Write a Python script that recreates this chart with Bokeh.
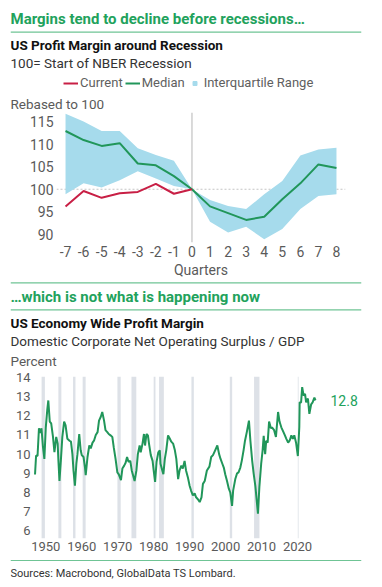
import numpy as np
from bokeh.plotting import figure
from bokeh.models import (Range1d, Label, Span, Legend, LegendItem, FixedTicker,
                          BoxAnnotation, ColumnDataSource)
from bokeh.layouts import column
from bokeh.embed import file_html
from bokeh.resources import INLINE
from bokeh.core.properties import value

# ---------------- data: chart 1 ----------------
quarters = [-7, -6, -5, -4, -3, -2, -1, 0, 1, 2, 3, 4, 5, 6, 7, 8]
median = [112.9, 110.9, 109.6, 110.2, 105.7, 105.3, 102.9, 100.0,
          96.2, 94.7, 93.2, 93.9, 97.8, 101.3, 105.5, 104.7]
iqr_high = [116.7, 115.0, 112.9, 112.9, 109.1, 107.6, 106.3, 100.0,
            97.6, 96.3, 95.6, 98.9, 101.8, 107.5, 108.8, 109.2]
iqr_low = [98.9, 101.3, 100.4, 102.0, 104.0, 102.4, 100.7, 100.0,
           92.8, 90.4, 91.7, 88.9, 91.2, 95.6, 98.5, 98.9]
current_q = [-7, -6, -5, -4, -3, -2, -1, 0]
current = [96.2, 99.6, 98.1, 99.1, 99.4, 101.2, 99.0, 100.0]
c1_yticks = [90, 95, 100, 105, 110, 115]

# ---------------- data: chart 2 ----------------
years = [1947.0, 1947.3, 1947.7, 1948.1, 1948.5, 1948.8, 1949.2, 1949.6, 1950.0, 1950.4,
         1950.7, 1951.1, 1951.5, 1952.0, 1952.4, 1952.9, 1953.3, 1953.5, 1953.8, 1954.2,
         1954.6, 1955.1, 1955.5, 1956.0, 1956.6, 1957.0, 1957.4, 1957.7, 1958.1, 1958.5,
         1958.8, 1959.3, 1959.7, 1960.0, 1960.5, 1960.9, 1961.1, 1961.6, 1962.1, 1962.5,
         1963.0, 1963.4, 1963.9, 1964.4, 1964.8, 1965.3, 1965.7, 1966.2, 1966.6, 1967.1,
         1967.5, 1968.0, 1968.5, 1968.9, 1969.4, 1969.9, 1970.3, 1970.9, 1971.3, 1971.8,
         1972.2, 1972.6, 1973.0, 1973.5, 1973.9, 1974.7, 1975.2, 1975.6, 1976.1, 1976.4,
         1976.9, 1977.3, 1977.6, 1978.0, 1978.4, 1978.7, 1979.2, 1979.7, 1980.0, 1980.4,
         1980.8, 1981.3, 1981.7, 1981.9, 1982.4, 1982.7, 1983.1, 1983.5, 1984.0, 1984.5,
         1984.9, 1985.4, 1985.9, 1986.3, 1986.8, 1987.2, 1987.7, 1988.1, 1988.6, 1989.0,
         1989.5, 1990.0, 1990.4, 1990.9, 1991.4, 1991.8, 1992.3, 1992.8, 1993.3, 1993.7,
         1994.2, 1994.8, 1995.5, 1996.0, 1996.5, 1997.1, 1997.7, 1998.2, 1998.6, 1999.1,
         1999.5, 1999.9, 2000.4, 2000.9, 2001.3, 2001.8, 2002.1, 2002.7, 2003.2, 2003.6,
         2004.1, 2004.5, 2005.0, 2005.4, 2005.9, 2006.5, 2006.9, 2007.4, 2007.8, 2008.3,
         2008.7, 2009.0, 2009.4, 2009.9, 2010.3, 2010.6, 2011.0, 2011.3, 2011.7, 2012.1,
         2012.6, 2012.9, 2013.5, 2014.0, 2014.6, 2015.0, 2015.5, 2016.1, 2016.5, 2016.9,
         2017.4, 2017.8, 2018.3, 2018.7, 2019.1, 2019.6, 2020.1, 2020.5, 2020.6, 2021.0,
         2021.3, 2021.7, 2022.1, 2022.4, 2022.9, 2023.3, 2023.8, 2024.2, 2024.7, 2025.0]
margin = [8.94, 9.93, 9.9, 11.35, 11.1, 11.35, 10.4, 9.75, 11.4, 12.3,
          12.8, 11.7, 11.6, 10.9, 10.1, 10.9, 10.55, 9.7, 8.6, 9.7,
          10.9, 11.7, 11.5, 10.8, 10.7, 10.65, 10.0, 9.15, 8.35, 9.5,
          10.0, 11.05, 10.2, 9.95, 9.85, 9.3, 8.9, 9.85, 10.45, 10.3,
          10.6, 10.7, 11.0, 11.15, 11.75, 11.95, 12.2, 11.75, 11.25, 11.15,
          11.05, 10.98, 10.9, 10.35, 9.75, 9.05, 8.95, 8.65, 9.25, 9.4,
          9.55, 9.85, 9.6, 9.65, 9.15, 8.6, 9.15, 10.0, 10.45, 10.1,
          10.55, 11.05, 10.45, 11.05, 10.98, 10.55, 9.95, 9.65, 9.15, 8.55,
          9.6, 10.1, 10.2, 9.5, 9.15, 8.95, 9.75, 10.2, 10.98, 10.8,
          10.65, 10.55, 10.2, 9.75, 8.7, 9.15, 9.4, 9.25, 9.65, 9.15,
          8.8, 8.35, 8.1, 7.85, 7.95, 7.75, 7.65, 7.5, 7.75, 8.45,
          8.6, 9.15, 9.35, 9.85, 9.95, 10.2, 10.45, 10.0, 9.75, 9.5,
          9.3, 8.95, 8.6, 8.2, 8.0, 7.3, 8.1, 8.7, 9.0, 9.05,
          9.3, 9.65, 10.2, 10.7, 11.15, 11.75, 10.7, 9.65, 9.0, 8.3,
          7.5, 6.9, 8.3, 9.5, 10.2, 10.95, 10.0, 10.7, 10.6, 11.7,
          11.35, 11.4, 11.25, 10.9, 12.2, 11.7, 11.4, 11.15, 10.98, 10.8,
          10.6, 10.7, 10.98, 10.8, 10.98, 10.6, 9.9, 11.4, 12.7, 12.7,
          13.5, 13.05, 13.15, 12.7, 12.9, 12.1, 12.6, 12.7, 12.95, 12.8]
rec_start = [1948.83, 1953.5, 1957.58, 1960.25, 1969.92, 1973.83, 1980.0, 1981.5,
             1990.5, 2001.17, 2007.92, 2020.08]
rec_end = [1949.75, 1954.33, 1958.25, 1961.08, 1970.83, 1975.17, 1980.5, 1982.83,
           1991.17, 2001.83, 2009.42, 2020.3]
c2_xticks = [1950, 1960, 1970, 1980, 1990, 2000, 2010, 2020]
c2_yticks = [6, 7, 8, 9, 10, 11, 12, 13, 14]

# ---------------- styles ----------------
FONT = "Roboto"
GREEN_T = "#22a25c"
SEP = "#6fc495"
LINE_G = "#21965a"
RED = "#c81f45"
IQR = "#a6dbec"
TICK = "#5a5a5a"
W = 374


def header(h, items, lines):
    p = figure(width=W, height=h, x_range=Range1d(0, 351), y_range=Range1d(h, 0),
               output_backend="svg", toolbar_location=None, frame_align=False,
               x_axis_location=None, y_axis_location=None,
               min_border_left=10, min_border_right=13, min_border_top=0, min_border_bottom=0)
    p.grid.visible = False
    p.outline_line_color = None
    for (y, text, size, style, color) in items:
        p.add_layout(Label(x=0, y=y, text=text, text_font=FONT, text_font_size=f"{size}px",
                           text_font_style=style, text_color=color,
                           text_baseline="middle", text_align="left"))
    for y in lines:
        p.add_layout(Span(location=y, dimension="width", line_color=SEP, line_width=1.2))
    return p


def style_axes(p, size):
    for ax in (p.xaxis, p.yaxis):
        ax.axis_line_color = None
        ax.major_tick_line_color = None
        ax.minor_tick_line_color = None
        ax.major_tick_out = 0
        ax.major_tick_in = 0
        ax.major_label_text_font = FONT
        ax.major_label_text_font_size = size
        ax.major_label_text_color = TICK
        ax.major_label_standoff = 3
    p.grid.visible = False
    p.outline_line_color = None


# ---------------- header 1 (titles, legend key, axis caption) ----------------
h1 = header(110, [
    (18, "Margins tend to decline before recessions\u2026", 15, "bold", GREEN_T),
    (44, "US Profit Margin around Recession", 13.5, "bold", "#111111"),
    (62, "100= Start of NBER Recession", 13.5, "normal", "#333333"),
    (103, "Rebased to 100", 13.5, "normal", TICK),
], [31.7])
nan_pt = np.array([np.nan])
key_cur = h1.line(x=nan_pt, y=nan_pt, line_color=RED, line_width=2)
key_med = h1.line(x=nan_pt, y=nan_pt, line_color=LINE_G, line_width=2)
key_iqr = h1.scatter(x=nan_pt, y=nan_pt, marker="square", fill_color=IQR, line_color=IQR)
legend = Legend(items=[LegendItem(label="Current", renderers=[key_cur]),
                       LegendItem(label="Median", renderers=[key_med]),
                       LegendItem(label="Interquartile Range", renderers=[key_iqr])],
                orientation="horizontal", location=(53, 20),
                glyph_width=15, glyph_height=10, label_standoff=2, spacing=2,
                padding=0, margin=0, border_line_color=None, background_fill_alpha=0,
                label_text_font=FONT, label_text_font_size="13px", label_text_color="#606060")
h1.add_layout(legend)

# ---------------- chart 1 ----------------
c1 = figure(width=W, height=170, x_range=Range1d(-7.5, 8.5), y_range=Range1d(88.2, 117.0),
            output_backend="svg", toolbar_location=None, frame_align=False,
            min_border_left=56, min_border_right=29, min_border_top=2, min_border_bottom=38)
style_axes(c1, "14px")
c1.xaxis.ticker = FixedTicker(ticks=quarters)
c1.xaxis.major_label_overrides = {q: str(q) for q in quarters}
c1.yaxis.ticker = FixedTicker(ticks=c1_yticks)
c1.xaxis.axis_label = "Quarters"
c1.xaxis.axis_label_text_font = FONT
c1.xaxis.axis_label_text_font_size = "14px"
c1.xaxis.axis_label_text_font_style = "normal"
c1.xaxis.axis_label_text_color = TICK
c1.xaxis.axis_label_standoff = 2

src1 = ColumnDataSource(dict(q=quarters, med=median, lo=iqr_low, hi=iqr_high))
c1.add_layout(Span(location=100, dimension="width", line_color="#c4c4c4", line_width=1,
                   line_dash="2 2", level="underlay"))
c1.add_layout(Span(location=0, dimension="height", line_color="#b5b5b5", line_width=1,
                   level="underlay"))
c1.varea(x="q", y1="lo", y2="hi", source=src1, fill_color=IQR, fill_alpha=1.0)
c1.line(x="q", y="med", source=src1, line_color=LINE_G, line_width=2)
c1.line(x=current_q, y=current, line_color=RED, line_width=2)

# ---------------- header 2 ----------------
h2 = header(90, [
    (16, "\u2026which is not what is happening now", 15, "bold", GREEN_T),
    (42.3, "US Economy Wide Profit Margin", 13.5, "bold", "#111111"),
    (60, "Domestic Corporate Net Operating Surplus / GDP", 13.5, "normal", "#333333"),
    (80, "Percent", 13.5, "normal", TICK),
], [2.3, 29.3])

# ---------------- chart 2 ----------------
c2 = figure(width=W, height=186, x_range=Range1d(1946.58, 2037.8), y_range=Range1d(5.6, 14.05),
            output_backend="svg", toolbar_location=None, frame_align=False,
            min_border_left=33, min_border_right=13, min_border_top=6, min_border_bottom=18)
style_axes(c2, "13px")
c2.xaxis.ticker = FixedTicker(ticks=c2_xticks)
c2.yaxis.ticker = FixedTicker(ticks=c2_yticks)
for s, e in zip(rec_start, rec_end):
    c2.add_layout(BoxAnnotation(left=s, right=e, fill_color="#dde1e7", fill_alpha=1.0,
                                line_color=None, level="underlay"))
c2.line(x=years, y=margin, line_color=LINE_G, line_width=2)
c2.text(x=[years[-1]], y=[margin[-1]], text=[f"{margin[-1]:.1f}"], x_offset=15,
        text_baseline="middle", text_align="left", text_font=value(FONT),
        text_font_size="14px", text_color=GREEN_T)

# ---------------- footer ----------------
foot = header(25, [
    (17, "Sources: Macrobond, GlobalData TS Lombard.", 11, "normal", "#333333"),
], [4])

layout = column(h1, c1, h2, c2, foot, spacing=0)
open("out.html", "w").write(file_html(layout, INLINE))
